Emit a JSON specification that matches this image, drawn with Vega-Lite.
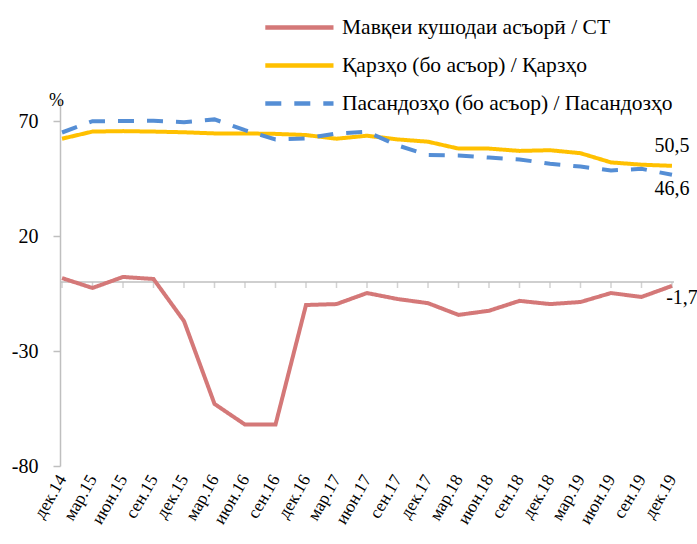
{
  "$schema": "https://vega.github.io/schema/vega-lite/v6.json",
  "width": 614,
  "height": 368,
  "autosize": "none",
  "padding": {"left": 60, "top": 98, "right": 23, "bottom": 78},
  "background": "white",
  "config": {"font": "Liberation Serif", "view": {"stroke": null}},
  "datasets": {
    "series": [
      {"date": "дек.14", "series": "Мавқеи кушодаи асъорӣ / СТ", "value": 1.7},
      {"date": "мар.15", "series": "Мавқеи кушодаи асъорӣ / СТ", "value": -2.6},
      {"date": "июн.15", "series": "Мавқеи кушодаи асъорӣ / СТ", "value": 2.2},
      {"date": "сен.15", "series": "Мавқеи кушодаи асъорӣ / СТ", "value": 1.3},
      {"date": "дек.15", "series": "Мавқеи кушодаи асъорӣ / СТ", "value": -17},
      {"date": "мар.16", "series": "Мавқеи кушодаи асъорӣ / СТ", "value": -53},
      {"date": "июн.16", "series": "Мавқеи кушодаи асъорӣ / СТ", "value": -62},
      {"date": "сен.16", "series": "Мавқеи кушодаи асъорӣ / СТ", "value": -62},
      {"date": "дек.16", "series": "Мавқеи кушодаи асъорӣ / СТ", "value": -10},
      {"date": "мар.17", "series": "Мавқеи кушодаи асъорӣ / СТ", "value": -9.6},
      {"date": "июн.17", "series": "Мавқеи кушодаи асъорӣ / СТ", "value": -4.8},
      {"date": "сен.17", "series": "Мавқеи кушодаи асъорӣ / СТ", "value": -7.4},
      {"date": "дек.17", "series": "Мавқеи кушодаи асъорӣ / СТ", "value": -9.2},
      {"date": "мар.18", "series": "Мавқеи кушодаи асъорӣ / СТ", "value": -14.3},
      {"date": "июн.18", "series": "Мавқеи кушодаи асъорӣ / СТ", "value": -12.5},
      {"date": "сен.18", "series": "Мавқеи кушодаи асъорӣ / СТ", "value": -8.2},
      {"date": "дек.18", "series": "Мавқеи кушодаи асъорӣ / СТ", "value": -9.6},
      {"date": "мар.19", "series": "Мавқеи кушодаи асъорӣ / СТ", "value": -8.7},
      {"date": "июн.19", "series": "Мавқеи кушодаи асъорӣ / СТ", "value": -4.8},
      {"date": "сен.19", "series": "Мавқеи кушодаи асъорӣ / СТ", "value": -6.5},
      {"date": "дек.19", "series": "Мавқеи кушодаи асъорӣ / СТ", "value": -1.7},
      {"date": "дек.14", "series": "Қарзҳо (бо асъор) / Қарзҳо", "value": 62.3},
      {"date": "мар.15", "series": "Қарзҳо (бо асъор) / Қарзҳо", "value": 65.4},
      {"date": "июн.15", "series": "Қарзҳо (бо асъор) / Қарзҳо", "value": 65.6},
      {"date": "сен.15", "series": "Қарзҳо (бо асъор) / Қарзҳо", "value": 65.4},
      {"date": "дек.15", "series": "Қарзҳо (бо асъор) / Қарзҳо", "value": 65.1},
      {"date": "мар.16", "series": "Қарзҳо (бо асъор) / Қарзҳо", "value": 64.6},
      {"date": "июн.16", "series": "Қарзҳо (бо асъор) / Қарзҳо", "value": 64.6},
      {"date": "сен.16", "series": "Қарзҳо (бо асъор) / Қарзҳо", "value": 64.4},
      {"date": "дек.16", "series": "Қарзҳо (бо асъор) / Қарзҳо", "value": 63.9},
      {"date": "мар.17", "series": "Қарзҳо (бо асъор) / Қарзҳо", "value": 62.3},
      {"date": "июн.17", "series": "Қарзҳо (бо асъор) / Қарзҳо", "value": 63.6},
      {"date": "сен.17", "series": "Қарзҳо (бо асъор) / Қарзҳо", "value": 62},
      {"date": "дек.17", "series": "Қарзҳо (бо асъор) / Қарзҳо", "value": 61},
      {"date": "мар.18", "series": "Қарзҳо (бо асъор) / Қарзҳо", "value": 58},
      {"date": "июн.18", "series": "Қарзҳо (бо асъор) / Қарзҳо", "value": 58},
      {"date": "сен.18", "series": "Қарзҳо (бо асъор) / Қарзҳо", "value": 57},
      {"date": "дек.18", "series": "Қарзҳо (бо асъор) / Қарзҳо", "value": 57.3},
      {"date": "мар.19", "series": "Қарзҳо (бо асъор) / Қарзҳо", "value": 56},
      {"date": "июн.19", "series": "Қарзҳо (бо асъор) / Қарзҳо", "value": 52},
      {"date": "сен.19", "series": "Қарзҳо (бо асъор) / Қарзҳо", "value": 51},
      {"date": "дек.19", "series": "Қарзҳо (бо асъор) / Қарзҳо", "value": 50.5},
      {"date": "дек.14", "series": "Пасандозҳо (бо асъор) / Пасандозҳо", "value": 65},
      {"date": "мар.15", "series": "Пасандозҳо (бо асъор) / Пасандозҳо", "value": 69.9},
      {"date": "июн.15", "series": "Пасандозҳо (бо асъор) / Пасандозҳо", "value": 70},
      {"date": "сен.15", "series": "Пасандозҳо (бо асъор) / Пасандозҳо", "value": 70.1},
      {"date": "дек.15", "series": "Пасандозҳо (бо асъор) / Пасандозҳо", "value": 69.5},
      {"date": "мар.16", "series": "Пасандозҳо (бо асъор) / Пасандозҳо", "value": 70.7},
      {"date": "июн.16", "series": "Пасандозҳо (бо асъор) / Пасандозҳо", "value": 66},
      {"date": "сен.16", "series": "Пасандозҳо (бо асъор) / Пасандозҳо", "value": 62},
      {"date": "дек.16", "series": "Пасандозҳо (бо асъор) / Пасандозҳо", "value": 62.4},
      {"date": "мар.17", "series": "Пасандозҳо (бо асъор) / Пасандозҳо", "value": 64.6},
      {"date": "июн.17", "series": "Пасандозҳо (бо асъор) / Пасандозҳо", "value": 65.3},
      {"date": "сен.17", "series": "Пасандозҳо (бо асъор) / Пасандозҳо", "value": 59.4},
      {"date": "дек.17", "series": "Пасандозҳо (бо асъор) / Пасандозҳо", "value": 55.2},
      {"date": "мар.18", "series": "Пасандозҳо (бо асъор) / Пасандозҳо", "value": 55},
      {"date": "июн.18", "series": "Пасандозҳо (бо асъор) / Пасандозҳо", "value": 54.1},
      {"date": "сен.18", "series": "Пасандозҳо (бо асъор) / Пасандозҳо", "value": 53.3},
      {"date": "дек.18", "series": "Пасандозҳо (бо асъор) / Пасандозҳо", "value": 51.4},
      {"date": "мар.19", "series": "Пасандозҳо (бо асъор) / Пасандозҳо", "value": 50.2},
      {"date": "июн.19", "series": "Пасандозҳо (бо асъор) / Пасандозҳо", "value": 48.5},
      {"date": "сен.19", "series": "Пасандозҳо (бо асъор) / Пасандозҳо", "value": 49.2},
      {"date": "дек.19", "series": "Пасандозҳо (бо асъор) / Пасандозҳо", "value": 46.6}
    ],
    "labels": [
      {"date": "дек.19", "value": 50.5, "text": "50,5", "key": "a"},
      {"date": "дек.19", "value": 46.6, "text": "46,6", "key": "b"},
      {"date": "дек.19", "value": -1.7, "text": "-1,7", "key": "c"}
    ],
    "zero": [{"value": 0}]
  },
  "layer": [
    {
      "data": {"name": "zero"},
      "mark": {"type": "rule", "color": "#bfbfbf", "strokeWidth": 1.5},
      "encoding": {"y": {"field": "value", "type": "quantitative"}}
    },
    {
      "data": {"name": "series"},
      "transform": [{"filter": "datum.series === 'Мавқеи кушодаи асъорӣ / СТ'"}],
      "mark": {"type": "tick", "orient": "vertical", "color": "#bfbfbf", "size": 6, "thickness": 1.5, "yOffset": 3},
      "encoding": {
        "x": {"field": "date", "type": "ordinal", "sort": null},
        "y": {"datum": 0, "type": "quantitative"}
      }
    },
    {
      "data": {"name": "series"},
      "mark": {"type": "line", "strokeWidth": 4, "strokeCap": "butt"},
      "encoding": {
        "x": {
          "field": "date", "type": "ordinal", "sort": null,
          "scale": {"type": "point", "padding": 0.066},
          "axis": {"title": null, "domain": false, "ticks": false, "labelAngle": -60, "labelFontSize": 17.5, "labelPadding": 10, "labelColor": "#000"}
        },
        "y": {
          "field": "value", "type": "quantitative",
          "scale": {"domain": [-80, 80], "nice": false, "zero": false},
          "axis": {"values": [-80, -30, 20, 70], "labelExpr": "toString(datum.value)", "title": "%", "titleAngle": 0, "titleX": -4, "titleY": 2, "titleAlign": "center", "titleBaseline": "middle", "titleFontSize": 18, "titleFontWeight": "normal", "titleColor": "#000", "grid": false, "domainColor": "#bfbfbf", "domainWidth": 1.5, "tickColor": "#bfbfbf", "tickWidth": 1.5, "tickSize": 7, "labelFontSize": 20, "labelPadding": 15, "labelColor": "#000"}
        },
        "color": {
          "field": "series", "type": "nominal",
          "scale": {"domain": ["Мавқеи кушодаи асъорӣ / СТ", "Қарзҳо (бо асъор) / Қарзҳо", "Пасандозҳо (бо асъор) / Пасандозҳо"], "range": ["#D47878", "#FFC000", "#558ED5"]},
          "legend": {"orient": "none", "legendX": 249, "legendY": -84, "title": null, "symbolType": "M-5.2,0H1", "symbolSize": 484, "symbolStrokeWidth": 4.5, "labelFontSize": 21.5, "labelColor": "#000", "labelOffset": 6, "rowPadding": 14, "labelLimit": 500}
        },
        "strokeDash": {
          "field": "series", "type": "nominal",
          "scale": {"domain": ["Мавқеи кушодаи асъорӣ / СТ", "Қарзҳо (бо асъор) / Қарзҳо", "Пасандозҳо (бо асъор) / Пасандозҳо"], "range": [[1, 0], [1, 0], [16, 13]]},
          "legend": {"orient": "none", "legendX": 249, "legendY": -84, "title": null, "symbolType": "M-5.2,0H1", "symbolSize": 484, "symbolStrokeWidth": 4.5, "labelFontSize": 21.5, "labelColor": "#000", "labelOffset": 6, "rowPadding": 14, "labelLimit": 500}
        }
      }
    },
    {
      "data": {"name": "labels"},
      "transform": [{"filter": "datum.key === 'a'"}],
      "mark": {"type": "text", "fontSize": 20, "color": "#000", "dy": -20, "dx": 0},
      "encoding": {
        "x": {"field": "date", "type": "ordinal", "sort": null},
        "y": {"field": "value", "type": "quantitative"},
        "text": {"field": "text"}
      }
    },
    {
      "data": {"name": "labels"},
      "transform": [{"filter": "datum.key === 'b'"}],
      "mark": {"type": "text", "fontSize": 20, "color": "#000", "dy": 14, "dx": 0},
      "encoding": {
        "x": {"field": "date", "type": "ordinal", "sort": null},
        "y": {"field": "value", "type": "quantitative"},
        "text": {"field": "text"}
      }
    },
    {
      "data": {"name": "labels"},
      "transform": [{"filter": "datum.key === 'c'"}],
      "mark": {"type": "text", "fontSize": 20, "color": "#000", "dy": 12, "dx": 10},
      "encoding": {
        "x": {"field": "date", "type": "ordinal", "sort": null},
        "y": {"field": "value", "type": "quantitative"},
        "text": {"field": "text"}
      }
    }
  ]
}
